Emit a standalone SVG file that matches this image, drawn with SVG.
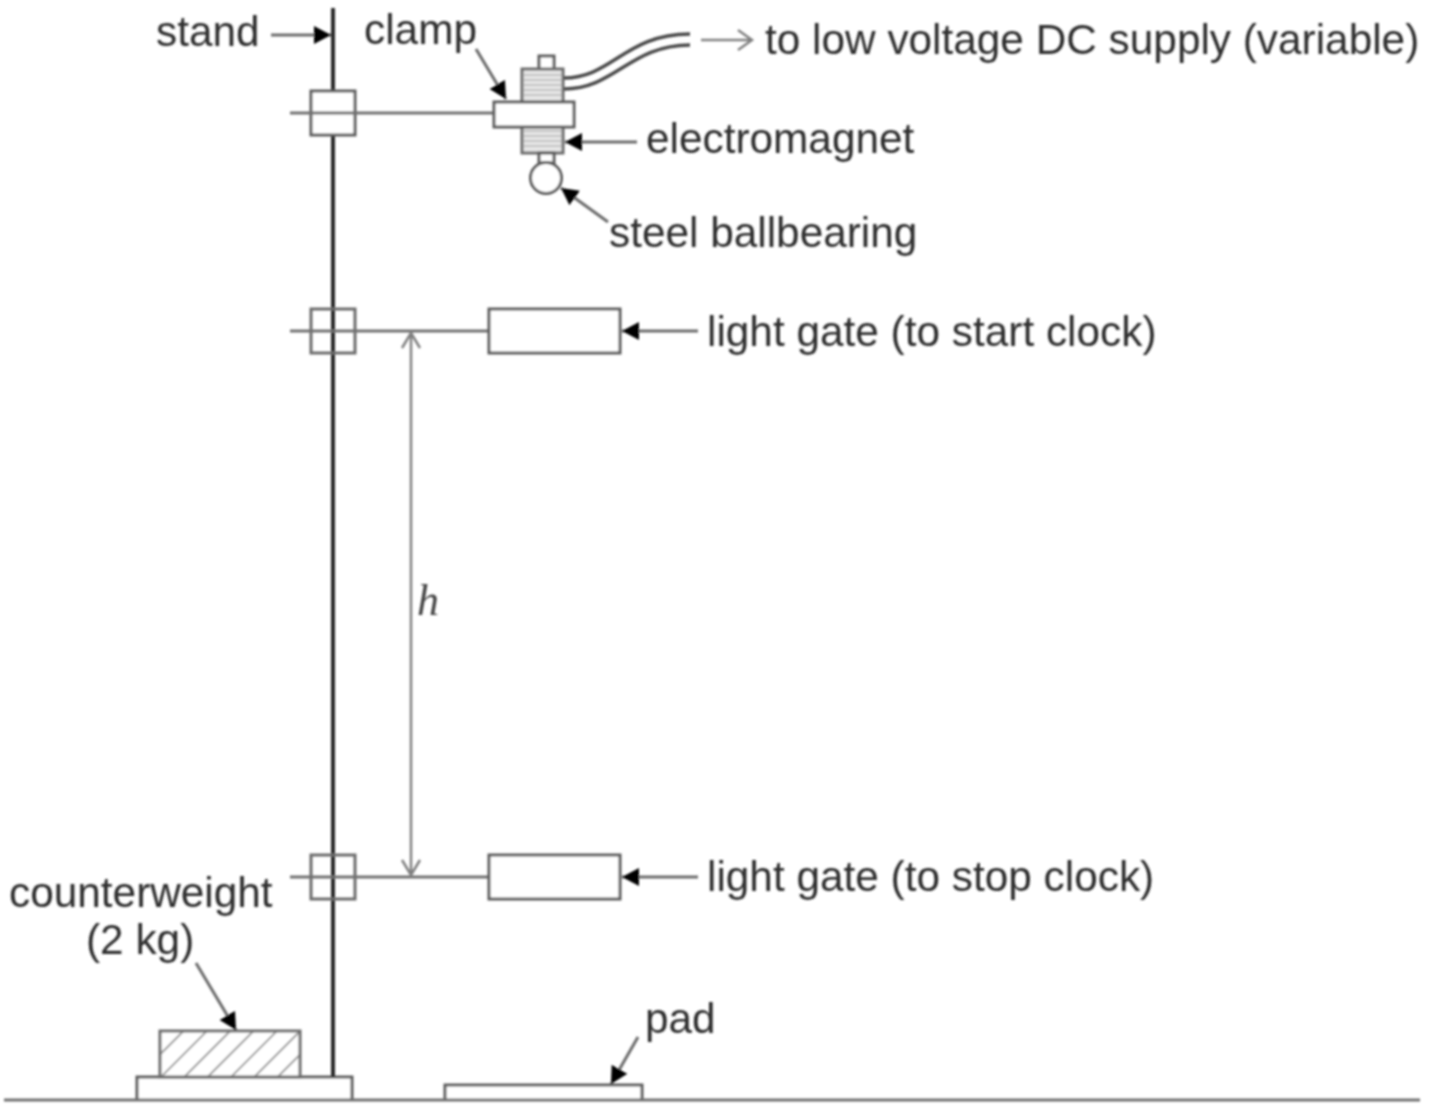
<svg xmlns="http://www.w3.org/2000/svg" width="1440" height="1120" viewBox="0 0 1440 1120">
<style>
.t{font-family:"Liberation Sans",Arial,sans-serif;font-size:42.350px;fill:#2e2e2e}
.i{font-family:"Liberation Serif",serif;font-style:italic;font-size:44px;fill:#444}
.b{fill:#fff;stroke:#5c5c5c;stroke-width:3}
.o{fill:none;stroke:#6c6c6c;stroke-width:3}
.l{fill:none;stroke:#707070;stroke-width:3}
.s{fill:none;stroke:#2a2a2a;stroke-width:4}
.a{fill:none;stroke:#6c6c6c;stroke-width:3;marker-end:url(#ah)}
.d{fill:none;stroke:#808080;stroke-width:2.500}
.c{stroke:#c4c4c4;stroke-width:2}
.w{fill:none;stroke:#4a4a4a;stroke-width:3.500}
</style>
<defs>
<marker id="ah" markerUnits="userSpaceOnUse" markerWidth="20" markerHeight="20" refX="17" refY="9" orient="auto"><path d="M0 0L17 9L0 18Z" fill="#000"/></marker>
<pattern id="hatch" patternUnits="userSpaceOnUse" width="16.500" height="16.500" patternTransform="rotate(45)"><rect width="16.500" height="16.500" fill="#fff"/><line x1="0" y1="0" x2="0" y2="16.500" stroke="#777" stroke-width="3"/></pattern>
<filter id="soft" filterUnits="userSpaceOnUse" x="0" y="0" width="1440" height="1120"><feGaussianBlur stdDeviation="0.800"/></filter>
</defs>
<rect width="1440" height="1120" fill="#fff"/>
<g filter="url(#soft)">
<g id="base"><path class="b" d="M137 1100V1077H352V1100"/></g>
<g id="pad"><path class="b" d="M445 1100V1085H642V1100"/></g>
<g id="ground"><line class="l" x1="4" y1="1100" x2="1420" y2="1100"/></g>
<g id="counterweight"><rect x="160" y="1031" width="140" height="46" fill="url(#hatch)" stroke="#6c6c6c" stroke-width="3"/></g>
<g id="stand"><line class="s" x1="333" y1="8" x2="333" y2="1077"/></g>
<g id="boss-top"><rect class="b" x="311" y="91" width="44" height="44"/><line class="l" x1="290" y1="113" x2="494" y2="113"/></g>
<g id="boss-start"><rect class="o" x="311" y="309" width="44" height="44"/><line class="l" x1="290" y1="331" x2="489" y2="331"/></g>
<g id="boss-stop"><rect class="o" x="311" y="855" width="44" height="44"/><line class="l" x1="290" y1="877" x2="489" y2="877"/></g>
<g id="electromagnet">
<rect class="b" x="539" y="56" width="15" height="14"/>
<rect x="522" y="69" width="41" height="84" fill="#e6e6e6" stroke="#6c6c6c" stroke-width="3"/>
<path class="c" d="M524 75H561M524 80H561M524 85H561M524 90H561M524 95H561M524 131H561M524 136H561M524 141H561M524 146H561"/>
<rect class="b" x="539" y="153" width="15" height="10"/>
<path class="w" d="M564 78C612 78 625 34 690 34"/>
<path class="w" d="M564 89C615 89 630 45 690 45"/>
</g>
<g id="clamp"><rect class="b" x="494" y="102" width="80" height="25"/></g>
<g id="ballbearing"><circle class="b" cx="546" cy="178" r="15.500"/></g>
<g id="gate-start"><rect class="b" x="489" y="309" width="131" height="44"/></g>
<g id="gate-stop"><rect class="b" x="489" y="855" width="131" height="44"/></g>
<g id="connectors">
<line class="a" x1="271" y1="35" x2="331" y2="35"/>
<line class="a" x1="476" y1="49" x2="506" y2="99"/>
<path class="d" d="M701 40H752M738 30L752 40L738 50"/>
<line class="a" x1="637" y1="142" x2="565" y2="142"/>
<line class="a" x1="608" y1="222" x2="561" y2="188"/>
<line class="a" x1="698" y1="331" x2="622" y2="331"/>
<line class="a" x1="698" y1="877" x2="622" y2="877"/>
<path class="d" d="M411 333V875M402 348L411 333L420 348M402 860L411 875L420 860"/>
<line class="a" x1="196" y1="963" x2="236" y2="1030"/>
<line class="a" x1="638" y1="1037" x2="611" y2="1084"/>
</g>
<g id="labels">
<text class="t" x="156" y="46">stand</text>
<text class="t" x="364" y="44">clamp</text>
<text class="t" x="765" y="54">to low voltage DC supply (variable)</text>
<text class="t" x="646" y="153">electromagnet</text>
<text class="t" x="609" y="247">steel ballbearing</text>
<text class="t" x="707" y="346">light gate (to start clock)</text>
<text class="t" x="707" y="891">light gate (to stop clock)</text>
<text class="i" x="417" y="615">h</text>
<text class="t" x="9" y="907">counterweight</text>
<text class="t" x="86" y="954">(2 kg)</text>
<text class="t" x="645" y="1033">pad</text>
</g>
</g>
</svg>
